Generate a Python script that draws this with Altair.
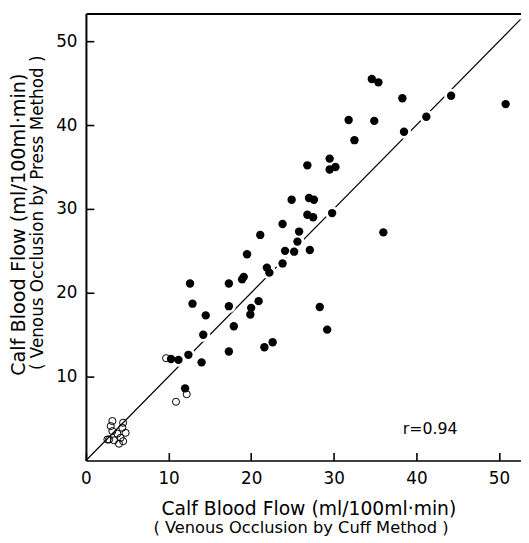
import altair as alt
import pandas as pd

# filled circles (x = cuff method, y = press method)
filled_x = [34.6, 35.4, 38.3, 44.2, 50.8, 31.8, 34.9, 41.2, 38.5, 32.5,
            29.5, 26.8, 29.5, 30.2, 24.9, 27.0, 27.6, 29.8, 26.8, 27.5,
            23.8, 25.8, 36.0, 21.1, 25.6, 24.1, 25.2, 27.1, 19.5, 23.8,
            21.9, 22.2, 19.1, 18.9, 17.3, 12.6, 12.9, 17.3, 20.9, 20.0,
            19.9, 14.5, 28.3, 29.2, 17.9, 14.2, 21.6, 22.6, 17.3, 14.0,
            10.3, 11.2, 12.4, 12.0]
filled_y = [45.5, 45.1, 43.2, 43.5, 42.5, 40.6, 40.5, 41.0, 39.2, 38.2,
            36.0, 35.2, 34.7, 35.0, 31.1, 31.3, 31.1, 29.5, 29.3, 29.0,
            28.2, 27.3, 27.2, 26.9, 26.1, 25.0, 24.9, 25.1, 24.6, 23.5,
            23.0, 22.4, 21.9, 21.6, 21.1, 21.1, 18.7, 18.4, 19.0, 18.2,
            17.4, 17.3, 18.3, 15.6, 16.0, 15.0, 13.5, 14.1, 13.0, 11.7,
            12.1, 12.0, 12.6, 8.6]

# open circles
open_x = [9.7, 12.2, 10.9, 3.2, 4.5, 3.0, 4.4, 3.2, 4.8, 3.8, 2.8, 3.4, 4.2, 4.0, 4.5, 2.6]
open_y = [12.2, 7.9, 7.0, 4.7, 4.5, 4.1, 3.9, 3.5, 3.3, 3.2, 2.5, 2.4, 2.7, 2.0, 2.3, 2.5]

x_ticks = [0, 10, 20, 30, 40, 50]
y_ticks = [10, 20, 30, 40, 50]
line_x = [0, 52.6]

x_title = "Calf Blood Flow (ml/100ml·min)"
x_sub = "( Venous Occlusion by Cuff Method )"
y_title = "Calf Blood Flow (ml/100ml·min)"
y_sub = "( Venous Occlusion by Press Method )"
r_text = "r=0.94"

FONT = "DejaVu Sans"
W, H = 441, 453
TICK_IN = 8  # inward tick length (px)

filled = pd.DataFrame({"x": filled_x, "y": filled_y})
opened = pd.DataFrame({"x": open_x, "y": open_y})
diag = pd.DataFrame({"x": line_x, "y": line_x})

xs = alt.Scale(domain=[0, 52.66], nice=False, zero=False)
ys = alt.Scale(domain=[0, 53.3], nice=False, zero=False)

# negative tick size (given as an expression) draws the ticks inside the plot;
# Vega offsets the labels by tickSize + labelPadding, so the padding compensates.
x_axis = alt.Axis(values=x_ticks, orient="bottom", title=None, grid=False,
                  tickSize={"expr": f"-{TICK_IN}"}, tickWidth=1.6, tickColor="black",
                  labelPadding=10 + TICK_IN, labelFont=FONT, labelFontSize=17,
                  labelColor="black", labelFlush=False, domainColor="black",
                  domainWidth=1.6, format="d")
y_axis = alt.Axis(values=y_ticks, orient="left", title=None, grid=False,
                  tickSize={"expr": f"-{TICK_IN}"}, tickWidth=1.6, tickColor="black",
                  labelPadding=9 + TICK_IN, labelFont=FONT, labelFontSize=17,
                  labelColor="black", labelFlush=False, domainColor="black",
                  domainWidth=2, format="d")
top_axis = alt.Axis(orient="top", title=None, grid=False, ticks=False, labels=False,
                    domainColor="black", domainWidth=2)

line = alt.Chart(diag).mark_line(color="black", strokeWidth=1.2).encode(
    x=alt.X("x:Q", scale=xs, axis=top_axis),
    y=alt.Y("y:Q", scale=ys, axis=None),
)

halo = alt.Chart(filled).mark_circle(size=200, color="white", opacity=1).encode(
    x=alt.X("x:Q", scale=xs, axis=None),
    y=alt.Y("y:Q", scale=ys, axis=None),
)

opn = alt.Chart(opened).mark_point(shape="circle", filled=False, size=52, color="black",
                                   strokeWidth=1, opacity=1).encode(
    x=alt.X("x:Q", scale=xs, axis=None),
    y=alt.Y("y:Q", scale=ys, axis=None),
)

fil = alt.Chart(filled).mark_circle(size=72, color="black", opacity=1).encode(
    x=alt.X("x:Q", scale=xs, axis=x_axis),
    y=alt.Y("y:Q", scale=ys, axis=y_axis),
)

def label(txt, x, y, size, angle=0):
    return alt.Chart(pd.DataFrame({"t": [txt]})).mark_text(
        font=FONT, fontSize=size, color="black", align="center", baseline="middle",
        angle=angle,
    ).encode(x=alt.value(x), y=alt.value(y), text="t:N")

texts = [
    label(x_title, 226, 502, 19),
    label(x_sub, 218, 522, 16.5),
    label(y_title, -68, 214, 19.5, 270),
    label(y_sub, -49, 202, 17, 270),
    label(r_text, 349, 421, 16),
]

chart = alt.layer(line, halo, opn, fil, *texts).resolve_axis(
    x="independent", y="independent"
).properties(
    width=W, height=H,
    autosize=alt.AutoSizeParams(type="none"),
    padding={"left": 79, "top": 2, "right": 0, "bottom": 78},
    background="white",
).configure_view(stroke=None)

chart.save("out.html", embed_options={"renderer": "svg", "actions": False})
